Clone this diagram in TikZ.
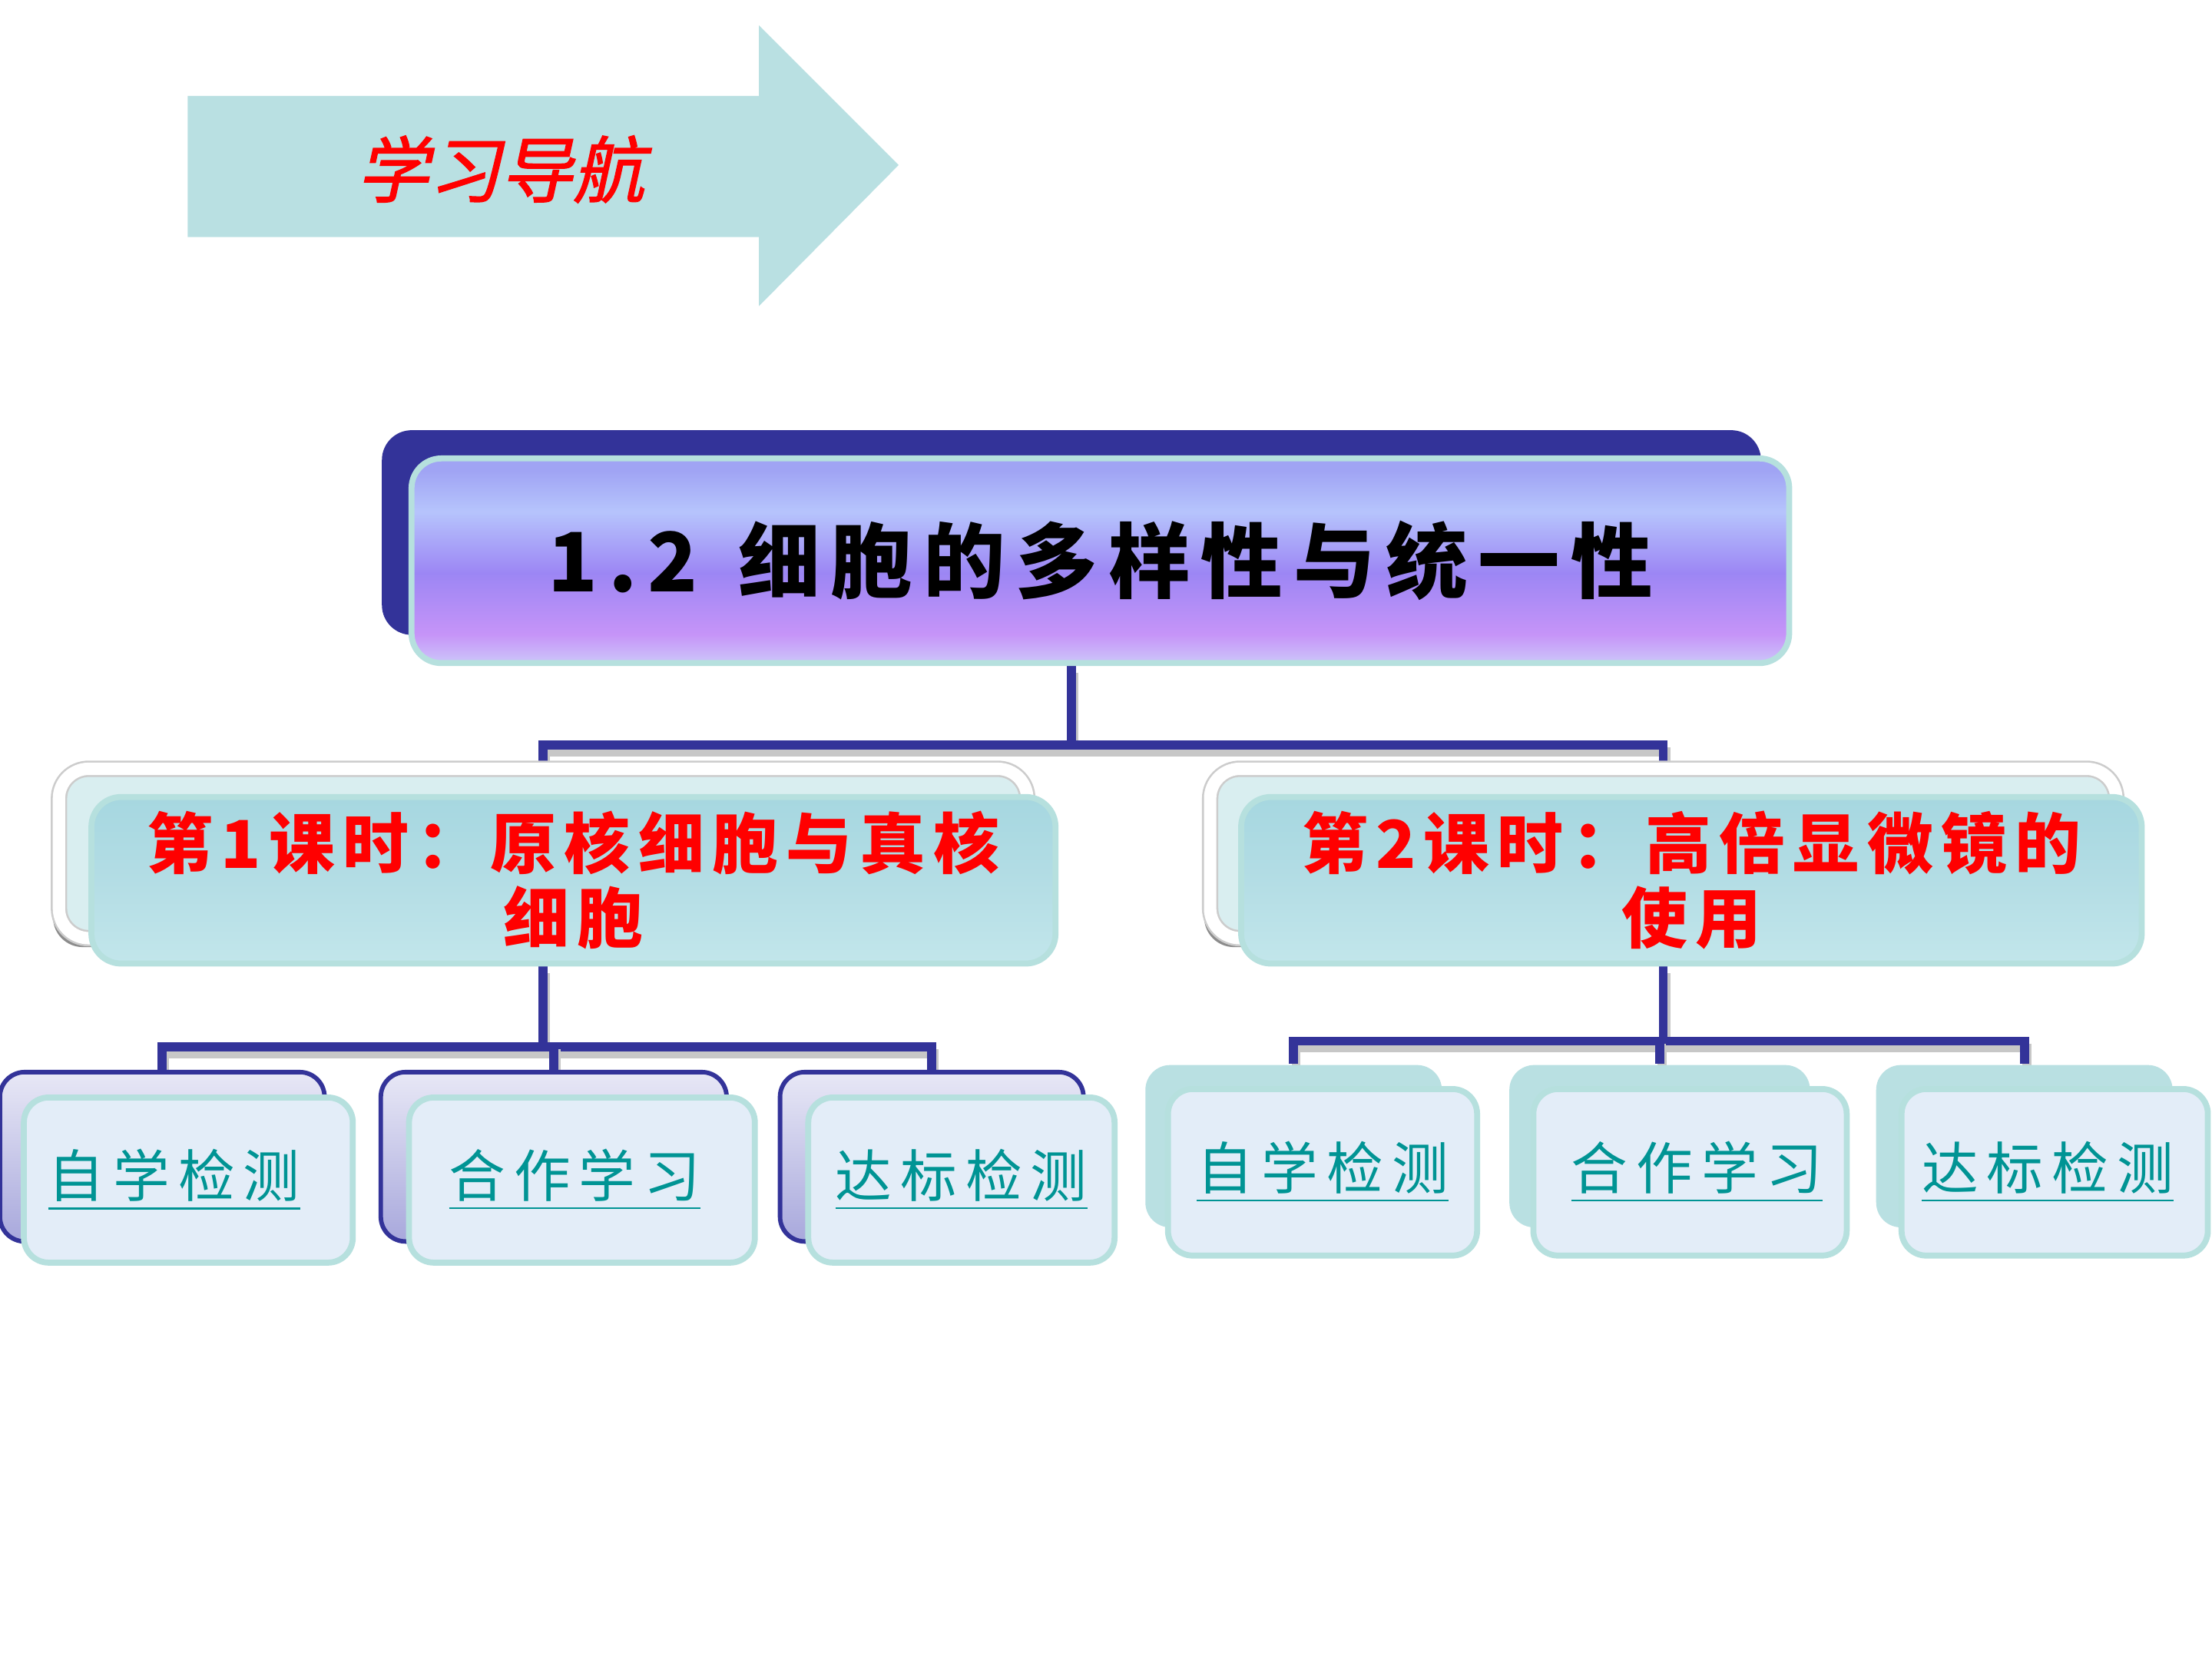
\documentclass[tikz,border=0pt]{standalone}
\usepackage{fontspec}
\usetikzlibrary{shadows,backgrounds}
\newfontfamily\cjkhead{Noto Sans CJK SC}[LetterSpace=13]
\newfontfamily\cjklesson{Noto Sans CJK SC}[LetterSpace=12]
\newfontfamily\cjklabel{Noto Sans CJK SC}[LetterSpace=15]
\newfontfamily\cjknav{Noto Sans CJK SC}[FakeSlant=0.22,FakeBold=1.5]
\definecolor{navy}{HTML}{333399}
\definecolor{arrowteal}{HTML}{B9E0E2}
\definecolor{edgeteal}{HTML}{B6E0DE}
\definecolor{waterteal}{HTML}{A6D7E0}
\definecolor{waterlight}{HTML}{C2E6EB}
\definecolor{lessonpale}{HTML}{D9EEF0}
\definecolor{palebox}{HTML}{E3EDF8}
\definecolor{lavtop}{HTML}{E8E8F6}
\definecolor{lavbot}{HTML}{A8A8DC}
\definecolor{labelteal}{HTML}{009494}
\definecolor{tgtop}{HTML}{A0A4F4}
\definecolor{tglight}{HTML}{B6C4FC}
\definecolor{tgmid}{HTML}{9C86F4}
\definecolor{tgpink}{HTML}{C694F8}
\definecolor{tgbot}{HTML}{CCC6FA}
\pgfdeclareverticalshading{titlegrad}{100bp}{color(0bp)=(tgbot); color(25bp)=(tgbot); color(32bp)=(tgpink); color(47bp)=(tgmid); color(62bp)=(tglight); color(72bp)=(tgtop); color(100bp)=(tgtop)}
\pgfdeclarelayer{paper}
\pgfsetlayers{paper,background,main}

\begin{document}
\begin{tikzpicture}[x=0.01cm,y=-0.01cm,
  link/.style={draw=navy,line width=1.8pt,preaction={draw=black!22,line width=1.8pt,transform canvas={shift={(0.5pt,-1.4pt)}}}},
  titlebk/.style={fill=navy,rounded corners=6pt,inner sep=0pt},
  titlebox/.style={shading=titlegrad,draw=edgeteal,line width=1.2pt,rounded corners=6pt,inner sep=0pt},
  lessonbk/.style={fill=lessonpale,draw=black!20,double=white,double distance=2.5pt,rounded corners=6pt,inner sep=0pt,drop shadow={shadow xshift=-1.2pt,shadow yshift=-1.8pt,fill=black,opacity=.45}},
  lessonbox/.style={top color=waterteal,bottom color=waterlight,middle color=waterteal!85!white,draw=edgeteal,line width=1.2pt,rounded corners=6pt,inner sep=0pt,align=center,text=red,font={\cjklesson\bfseries\fontsize{13.3}{15}\selectfont}},
  subbkA/.style={top color=lavtop,bottom color=lavbot,draw=navy,line width=0.9pt,rounded corners=5pt,inner sep=0pt,minimum height=1.2cm},
  subbkB/.style={fill=arrowteal,rounded corners=5pt,inner sep=0pt,minimum height=1.15cm},
  subbox/.style={fill=palebox,draw=edgeteal,line width=1.2pt,rounded corners=5pt,inner sep=0pt,text=labelteal,font={\cjklabel\fontsize{11.4}{13}\selectfont}}]
  \useasboundingbox (0,0) rectangle (1568,1176);
  \begin{pgfonlayer}{paper}
    \fill[white] (0,0) rectangle (1568,1176);
  \end{pgfonlayer}

  % arrow banner
  \fill[arrowteal] (133,68) -- (538,68) -- (538,18) -- (637,117) -- (538,217) -- (538,168) -- (133,168) -- cycle;
  \node[text=red,font={\cjknav\fontsize{14.5}{16}\selectfont}] (nav) at (355,120) {学习导航};

  % title
  \node[titlebk,minimum width=9.77cm,minimum height=1.45cm] (titlebk) at (759.5,377.5) {};
  \node[titlebox,minimum width=9.76cm,minimum height=1.45cm,font={\cjkhead\bfseries\fontsize{16.5}{18}\selectfont}] (title) at (780,397.5) {1.2\hspace{0.5em}细胞的多样性与统一性};

  % lessons
  \node[lessonbk,minimum width=6.86cm,minimum height=1.2cm] (lesAbk) at (385,605) {};
  \node[lessonbox,minimum width=6.83cm,minimum height=1.18cm] (lesA) at (406.5,624) {第1课时：原核细胞与真核\\细胞};
  \node[lessonbk,minimum width=6.42cm,minimum height=1.2cm] (lesBbk) at (1179,605) {};
  \node[lessonbox,minimum width=6.38cm,minimum height=1.18cm] (lesB) at (1199,624) {第2课时：高倍显微镜的\\使用};

  % tasks, lesson 1
  \node[subbkA,minimum width=2.3cm] (a1bk) at (115,820) {};
  \node[subbkA,minimum width=2.45cm] (a2bk) at (392.5,820) {};
  \node[subbkA,minimum width=2.15cm] (a3bk) at (660.5,820) {};
  \node[subbox,minimum width=2.33cm,minimum height=1.17cm] (a1) at (133.5,836.5) {\hspace*{-0.2cm}\underline{自学检测}};
  \node[subbox,minimum width=2.45cm,minimum height=1.17cm] (a2) at (412.5,836.5) {\hspace*{-0.1cm}\underline{合作学习}};
  \node[subbox,minimum width=2.17cm,minimum height=1.17cm] (a3) at (681.5,836.5) {\raisebox{0.06cm}{\underline{达标检测}}};

  % tasks, lesson 2
  \node[subbkB,minimum width=2.1cm] (b1bk) at (917,812.5) {};
  \node[subbkB,minimum width=2.13cm] (b2bk) at (1176.5,812.5) {};
  \node[subbkB,minimum width=2.1cm] (b3bk) at (1435,812.5) {};
  \node[subbox,minimum width=2.19cm,minimum height=1.18cm] (b1) at (937.5,831) {\underline{自学检测}};
  \node[subbox,minimum width=2.22cm,minimum height=1.18cm] (b2) at (1198,831) {\hspace*{0.1cm}\raisebox{0.05cm}{\underline{合作学习}}};
  \node[subbox,minimum width=2.17cm,minimum height=1.18cm] (b3) at (1456.5,831) {\hspace*{-0.1cm}\underline{达标检测}};

  % tree lines
  \begin{scope}[on background layer]
    \coordinate (tj) at (759.5,528);
    \coordinate (aj) at (385,742);
    \coordinate (bj) at (1179,738);
    \draw[link] (titlebk |- title.south) -- (tj);
    \draw[link] (lesAbk.north) |- (tj) -| (lesBbk.north);
    \draw[link] (lesAbk |- lesA.south) -- (aj);
    \draw[link] (a1bk.north) |- (aj) -| (a3bk.north);
    \draw[link] (aj) -| (a2bk.north);
    \draw[link] (lesBbk |- lesB.south) -- (bj);
    \draw[link] (b1bk.north) |- (bj) -| (b3bk.north);
    \draw[link] (bj) -| (b2bk.north);
  \end{scope}
\end{tikzpicture}
\end{document}
